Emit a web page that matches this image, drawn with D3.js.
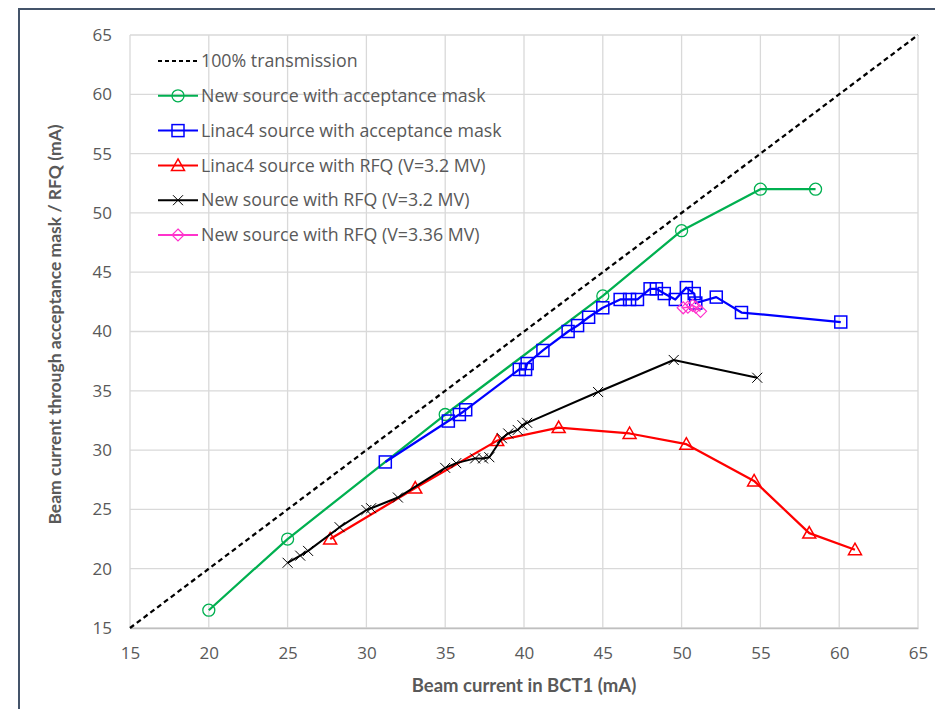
<!DOCTYPE html>
<html lang="en">
<head>
<meta charset="utf-8">
<title>Beam current through acceptance mask / RFQ</title>
<script src="https://d3js.org/d3.v7.min.js"></script>
<style type="text/css">
    body { margin: 0; background: #fff; }
    svg { display: block; }
</style>
</head>
<body>
<svg width="935" height="709"></svg>
<script type="text/javascript">

    // 100% transmission reference
    const idealX = [15, 65];
    const idealY = [15, 65];

    // New source with acceptance mask
    const greenX = [20, 25, 35, 45, 50, 55, 58.5];
    const greenY = [16.5, 22.5, 33.0, 43.0, 48.5, 52.0, 52.0];

    // Linac4 source with acceptance mask
    const blueX = [31.2, 35.2, 35.9, 36.3, 39.7, 40.1, 40.2, 41.2, 42.8, 43.4, 44.1, 45.0, 46.1, 46.7, 47.2, 48.0, 48.4, 48.9, 49.6, 50.3, 50.8, 50.9, 52.2, 53.8, 60.1];
    const blueY = [29.0, 32.45, 33.0, 33.4, 36.8, 36.8, 37.3, 38.4, 40.0, 40.5, 41.2, 42.0, 42.7, 42.7, 42.7, 43.6, 43.6, 43.2, 42.7, 43.7, 43.2, 42.4, 42.9, 41.6, 40.8];

    // Linac4 source with RFQ (V=3.2 MV)
    const redX = [27.7, 33.1, 38.3, 42.2, 46.7, 50.3, 54.6, 58.1, 61.0];
    const redY = [22.5, 26.8, 30.8, 31.9, 31.4, 30.5, 27.4, 23.0, 21.6];

    // New source with RFQ (V=3.2 MV)
    const blackX = [25.0, 25.8, 26.3, 28.3, 30.0, 30.3, 32.0, 35.0, 35.7, 36.9, 37.4, 37.8, 38.6, 39.0, 39.6, 39.9, 40.2, 44.7, 49.5, 54.8];
    const blackY = [20.5, 21.1, 21.5, 23.5, 24.95, 25.1, 26.0, 28.5, 28.9, 29.3, 29.3, 29.4, 31.0, 31.4, 31.7, 32.1, 32.3, 34.9, 37.6, 36.1];

    // New source with RFQ (V=3.36 MV)
    const pinkX = [50.1, 50.4, 50.7, 50.9, 51.2];
    const pinkY = [42.0, 42.05, 42.2, 42.05, 41.7];

    const xTicks = [15, 20, 25, 30, 35, 40, 45, 50, 55, 60, 65];
    const yTicks = [15, 20, 25, 30, 35, 40, 45, 50, 55, 60, 65];

    const seriesNames = [
        "100% transmission",
        "New source with acceptance mask",
        "Linac4 source with acceptance mask",
        "Linac4 source with RFQ (V=3.2 MV)",
        "New source with RFQ (V=3.2 MV)",
        "New source with RFQ (V=3.36 MV)"
    ];

    const zip = (xs, ys) => xs.map((x, i) => ({x: x, y: ys[i]}));

    const series = [
        {name: seriesNames[0], pts: zip(idealX, idealY), color: "#000000", marker: null, dash: "5,3.5", width: 2.25},
        {name: seriesNames[1], pts: zip(greenX, greenY), color: "#00B050", marker: "circle", width: 2.25},
        {name: seriesNames[2], pts: zip(blueX, blueY), color: "#0000FF", marker: "square", width: 2.25},
        {name: seriesNames[3], pts: zip(redX, redY), color: "#FF0000", marker: "triangle", width: 2.25},
        {name: seriesNames[4], pts: zip(blackX, blackY), color: "#000000", marker: "cross", width: 2},
        {name: seriesNames[5], pts: zip(pinkX, pinkY), color: "#FF33CC", marker: "diamond", width: 1.5}
    ];

    const svg = d3.select("svg");
    const mLeft = 130, mRight = 918, mTop = 35, mBottom = 628;

    const x = d3.scaleLinear().domain([15, 65]).range([mLeft, mRight]);
    const y = d3.scaleLinear().domain([15, 65]).range([mBottom, mTop]);

    const textColor = "#595959";
    const font = "'Open Sans', 'Noto Sans', sans-serif";

    // outer frame
    svg.append("rect")
        .attr("x", 19).attr("y", 9)
        .attr("width", 940).attr("height", 720)
        .attr("fill", "none")
        .attr("stroke", "#44546A")
        .attr("stroke-width", 2);

    // gridlines
    svg.append("g")
        .selectAll("line")
        .data(xTicks)
        .join("line")
        .attr("x1", d => x(d)).attr("x2", d => x(d))
        .attr("y1", mTop).attr("y2", mBottom)
        .attr("stroke", "#D9D9D9").attr("stroke-width", 1.3);

    svg.append("g")
        .selectAll("line")
        .data(yTicks)
        .join("line")
        .attr("y1", d => y(d)).attr("y2", d => y(d))
        .attr("x1", mLeft).attr("x2", mRight)
        .attr("stroke", "#D9D9D9").attr("stroke-width", 1.3);

    // axes (labels only, Excel style)
    const xAxis = svg.append("g")
        .attr("transform", `translate(0,${mBottom})`)
        .call(d3.axisBottom(x).tickValues(xTicks).tickSize(0).tickPadding(19));
    xAxis.select(".domain").attr("stroke", "#BFBFBF").attr("stroke-width", 1.3);
    xAxis.selectAll("text").attr("fill", textColor).attr("font-size", "17px").attr("font-family", font);

    const yAxis = svg.append("g")
        .attr("transform", `translate(${mLeft},0)`)
        .call(d3.axisLeft(y).tickValues(yTicks).tickSize(0).tickPadding(18));
    yAxis.select(".domain").remove();
    yAxis.selectAll("text").attr("fill", textColor).attr("font-size", "17px").attr("font-family", font);

    // axis titles
    svg.append("text")
        .attr("x", (mLeft + mRight) / 2).attr("y", 692)
        .attr("text-anchor", "middle")
        .attr("fill", textColor)
        .attr("font-family", "Lato, sans-serif")
        .attr("font-weight", "bold")
        .attr("font-size", "18.5px")
        .text("Beam current in BCT1 (mA)");

    svg.append("text")
        .attr("transform", `translate(61,${(mTop + mBottom) / 2 - 7}) rotate(-90)`)
        .attr("text-anchor", "middle")
        .attr("fill", textColor)
        .attr("font-family", "Lato, sans-serif")
        .attr("font-weight", "bold")
        .attr("font-size", "17.5px")
        .text("Beam current through acceptance mask / RFQ (mA)");

    // marker drawing
    function drawMarker(g, type, color) {
        if (type === "circle") {
            g.append("circle").attr("r", 6)
                .attr("fill", "none").attr("stroke", color).attr("stroke-width", 1.3);
        } else if (type === "square") {
            g.append("rect").attr("x", -6).attr("y", -6).attr("width", 12).attr("height", 12)
                .attr("fill", "none").attr("stroke", color).attr("stroke-width", 1.5);
        } else if (type === "triangle") {
            g.append("path").attr("d", "M0,-6.5L6.5,5L-6.5,5Z")
                .attr("fill", "none").attr("stroke", color).attr("stroke-width", 1.5);
        } else if (type === "cross") {
            g.append("path").attr("d", "M-5,-5L5,5M-5,5L5,-5")
                .attr("fill", "none").attr("stroke", color).attr("stroke-width", 1);
        } else if (type === "diamond") {
            g.append("path").attr("d", "M0,-6L6,0L0,6L-6,0Z")
                .attr("fill", "none").attr("stroke", color).attr("stroke-width", 1.2);
        }
    }

    const line = d3.line().x(d => x(d.x)).y(d => y(d.y));

    series.forEach(s => {
        svg.append("path")
            .datum(s.pts)
            .attr("d", line)
            .attr("fill", "none")
            .attr("stroke", s.color)
            .attr("stroke-width", s.width)
            .attr("stroke-dasharray", s.dash || null)
            .attr("stroke-linejoin", "round");
        if (s.marker) {
            svg.append("g")
                .selectAll("g")
                .data(s.pts)
                .join("g")
                .attr("transform", d => `translate(${x(d.x)},${y(d.y)})`)
                .each(function() { drawMarker(d3.select(this), s.marker, s.color); });
        }
    });

    // legend
    const legend = svg.append("g").attr("transform", "translate(158,61)");
    series.forEach((s, i) => {
        const row = legend.append("g").attr("transform", `translate(0,${i * 34.8})`);
        row.append("line")
            .attr("x1", 0).attr("x2", 40).attr("y1", 0).attr("y2", 0)
            .attr("stroke", s.color)
            .attr("stroke-width", 2)
            .attr("stroke-dasharray", s.dash ? "4,3" : null);
        if (s.marker) {
            const m = row.append("g").attr("transform", "translate(20,0)");
            drawMarker(m, s.marker, s.color);
        }
        row.append("text")
            .attr("x", 43).attr("y", 0).attr("dy", "0.35em")
            .attr("fill", textColor)
            .attr("font-family", font)
            .attr("font-size", "17.8px")
            .text(s.name);
    });

</script>
</body>
</html>
